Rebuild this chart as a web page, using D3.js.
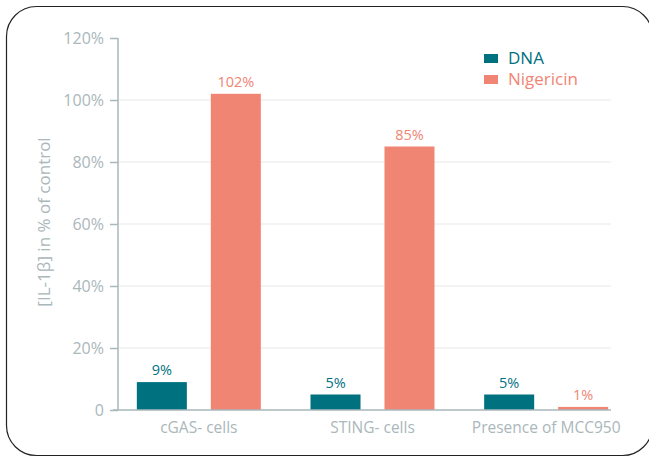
<!DOCTYPE html>
<html><head><meta charset="utf-8">
<script src="https://cdn.jsdelivr.net/npm/d3@7"></script>
<style>body{margin:0;background:#fff}svg{display:block}</style>
</head><body>
<svg id="c" width="649" height="457"></svg>
<script>
const categories = ["cGAS- cells", "STING- cells", "Presence of MCC950"];
const seriesNames = ["DNA", "Nigericin"];
const dnaValues = [9, 5, 5];
const nigericinValues = [102, 85, 1];
const yTicks = [0, 20, 40, 60, 80, 100, 120];
const colors = ["#00717f", "#f08574"];

const svg = d3.select("#c");
const font = "'Open Sans', sans-serif";
const gray = "#aab7bb";

svg.append("rect").attr("x",6.5).attr("y",6.5).attr("width",646).attr("height",449)
  .attr("rx",30).attr("fill","#fff").attr("stroke","#222").attr("stroke-width",1.2);

const y = d3.scaleLinear().domain([0,120]).range([410,38]);
const x = d3.scaleBand().domain(categories).range([112,633]);
const xs = d3.scaleBand().domain(seriesNames).range([-62,62]).paddingInner(0.324);

// grid
svg.append("g").selectAll("line").data(yTicks.filter(d=>d>0 && d<120)).join("line")
  .attr("x1",118).attr("x2",611).attr("y1",d=>y(d)).attr("y2",d=>y(d))
  .attr("stroke","#e8e8e8").attr("stroke-width",1);

// y axis
const yAxis = d3.axisLeft(y).tickValues(yTicks).tickSize(8).tickPadding(6)
  .tickFormat(d=> d===0 ? "0" : d+"%");
const ga = svg.append("g").attr("transform","translate(118,0)").call(yAxis);
ga.select(".domain").attr("stroke",gray).attr("stroke-width",1.5).attr("d","M0,38V410");
ga.selectAll(".tick line").attr("stroke",gray).attr("stroke-width",1.5);
ga.selectAll(".tick text").attr("fill",gray).attr("font-family",font).attr("font-weight",400).attr("font-size",16);

// bars
const data = categories.map((c,i)=>({c, vals:[dnaValues[i], nigericinValues[i]]}));
const groups = svg.append("g").selectAll("g").data(data).join("g")
  .attr("transform",d=>`translate(${x(d.c)+x.bandwidth()/2},0)`);
groups.selectAll("rect").data(d=>d.vals.map((v,j)=>({v,s:seriesNames[j],j}))).join("rect")
  .attr("x",d=>xs(d.s)).attr("width",xs.bandwidth())
  .attr("y",d=>y(d.v)).attr("height",d=>y(0)-y(d.v)).attr("fill",d=>colors[d.j]);
groups.selectAll("text").data(d=>d.vals.map((v,j)=>({v,s:seriesNames[j],j}))).join("text")
  .attr("x",d=>xs(d.s)+xs.bandwidth()/2).attr("y",d=>y(d.v)-7)
  .attr("text-anchor","middle").attr("fill",d=>colors[d.j])
  .attr("font-family",font).attr("font-weight",500).attr("font-size",14.5)
  .text(d=>d.v+"%");

// baseline
svg.append("line").attr("x1",113).attr("x2",611).attr("y1",y(0)).attr("y2",y(0))
  .attr("stroke",gray).attr("stroke-width",1.5);

// x labels
const xAxis = d3.axisBottom(x).tickSize(0).tickPadding(12);
const gx = svg.append("g").attr("transform",`translate(0,${y(0)})`).call(xAxis);
gx.select(".domain").remove();
gx.selectAll(".tick text").attr("fill",gray).attr("font-family",font).attr("font-weight",400).attr("font-size",15.5);

// y title
svg.append("text").attr("transform","translate(50,222) rotate(-90)")
  .attr("text-anchor","middle").attr("fill",gray).attr("font-family",font).attr("font-weight",400)
  .attr("font-size",17).text("[IL-1β] in % of control");

// legend
const lg = svg.append("g").selectAll("g").data(seriesNames).join("g")
  .attr("transform",(d,i)=>`translate(484,${54+i*21})`);
lg.append("rect").attr("width",14).attr("height",9).attr("fill",(d,i)=>colors[i]);
lg.append("text").attr("x",24).attr("y",10).attr("fill",(d,i)=>colors[i])
  .attr("font-family",font).attr("font-size",17).text(d=>d);
</script>
</body></html>
